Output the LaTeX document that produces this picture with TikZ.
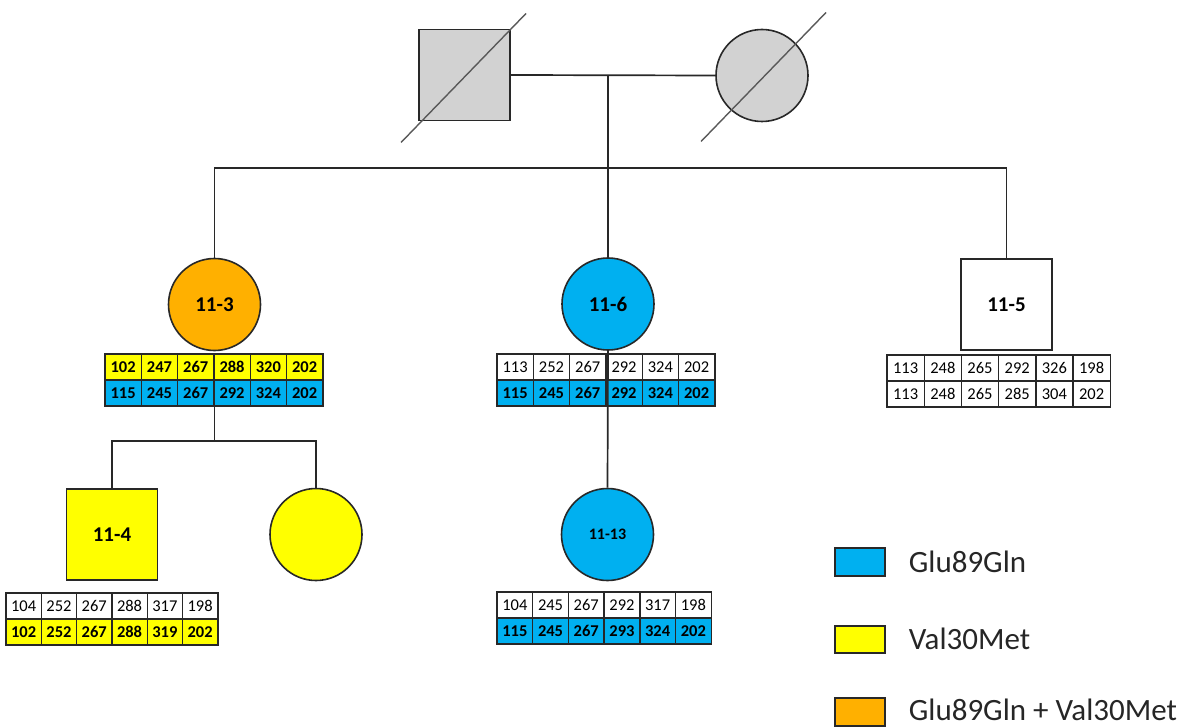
\documentclass[tikz,border=0pt]{standalone}
\usepackage{fontspec}
\setmainfont{Carlito}
\usetikzlibrary{calc}
\definecolor{gblue}{HTML}{00B0F0}
\definecolor{gyel}{HTML}{FFFF00}
\definecolor{gorange}{HTML}{FFB000}
\definecolor{ggray}{HTML}{D2D2D2}
\definecolor{edge}{HTML}{282828}
\newcommand\cellfont{\fontsize{16.5}{19}\selectfont}
\newcommand\hrow[6]{% name, xleft, ycenter, cell width, style, values
  \foreach \v [count=\i] in {#6} {%
    \node[#5, minimum width=#4] (#1-\i) at ({#2+(\i-0.5)*#4},#3) {\v};}}
\begin{document}
\begin{tikzpicture}[x=1pt,y=-1pt,
  line width=1.7pt, draw=edge,
  cell/.style={draw=edge, line width=1.4pt, minimum height=26, inner sep=0pt, font=\cellfont, text=black},
  wrow/.style={cell, fill=white},
  yrow/.style={cell, fill=gyel, font=\cellfont\bfseries},
  brow/.style={cell, fill=gblue, font=\cellfont\bfseries},
  fem/.style={circle, draw=edge, line width=1.6pt, minimum size=92, inner sep=0pt, font=\fontsize{21}{24}\selectfont\bfseries},
  mal/.style={rectangle, draw=edge, line width=1.6pt, minimum size=91, inner sep=0pt, font=\fontsize{21}{24}\selectfont\bfseries},
  slash/.style={draw=black!65, line width=1.4pt},
  legbox/.style={rectangle, draw=edge, line width=1.2pt, minimum width=50, inner sep=0pt},
  legtext/.style={anchor=west, inner sep=0pt, font=\fontsize{31}{34}\selectfont, text=black!85}
  ]
\useasboundingbox (0,0) rectangle (1185,727);

% parents
\node[mal, fill=ggray] (f) at (464.5,75) {};
\node[fem, fill=ggray] (m) at (762,75.5) {};
\draw[slash] ($(f.center)+(-63.5,67.5)$) -- ($(f.center)+(61.5,-61.5)$);
\draw[slash] ($(m.center)+(-61,66)$) -- ($(m.center)+(64,-63)$);

% generation II
\node[fem, fill=gorange] (c3) at (214.5,304.5) {11-3};
\node[fem, fill=gblue] (c6) at (608,304) {11-6};
\node[mal, fill=white] (c5) at (1006.5,304.5) {11-5};

% generation III
\node[mal, fill=gyel] (c4) at (112,534.5) {11-4};
\node[fem, fill=gyel] (cy) at (316,534.5) {};
\node[fem, fill=gblue, font=\fontsize{16}{18}\selectfont\bfseries] (c13) at (607.5,534.5) {11-13};

% connectors
\coordinate (mate) at (608,75.5);
\coordinate (sib) at (608,168);
\draw (f.east) -- (m.west);
\draw (mate) -- (sib);
\draw (c3.north) |- (sib) -| (c5.north);
\draw (sib) -- (c6.north);

% haplotype tables
\hrow{t3a}{105}{367}{36.3}{yrow}{102,247,267,288,320,202}
\hrow{t3b}{105}{393}{36.3}{brow}{115,245,267,292,324,202}

\hrow{t6a}{497}{367}{36.3}{wrow}{113,252,267,292,324,202}
\hrow{t6b}{497}{393}{36.3}{brow}{115,245,267,292,324,202}

\hrow{t5a}{887}{368}{37.2}{wrow}{113,248,265,292,326,198}
\hrow{t5b}{887}{394}{37.2}{wrow}{113,248,265,285,304,202}

\hrow{t4a}{6}{606}{35.3}{wrow}{104,252,267,288,317,198}
\hrow{t4b}{6}{632}{35.3}{yrow}{102,252,267,288,319,202}

\hrow{t13a}{497}{605}{35.7}{wrow}{104,245,267,292,317,198}
\hrow{t13b}{497}{631}{35.7}{brow}{115,245,267,293,324,202}

% descent lines
\draw (t3b-3.south east) -- ++(0,34) coordinate (sib2);
\draw (c4.north) |- (sib2) -| (cy.north);
\draw (c6.south) -- (c13.north);

% legend
\node[legbox, fill=gblue, minimum height=28] (lb1) at (860,562) {};
\node[legtext] (lt1) at (908,562) {Glu89Gln};
\node[legbox, fill=gyel, minimum height=27] (lb2) at (860,639.5) {};
\node[legtext] (lt2) at (908,639) {Val30Met};
\node[legbox, fill=gorange, minimum height=28] (lb3) at (860,712) {};
\node[legtext] (lt3) at (908,710) {Glu89Gln + Val30Met};
\end{tikzpicture}
\end{document}
